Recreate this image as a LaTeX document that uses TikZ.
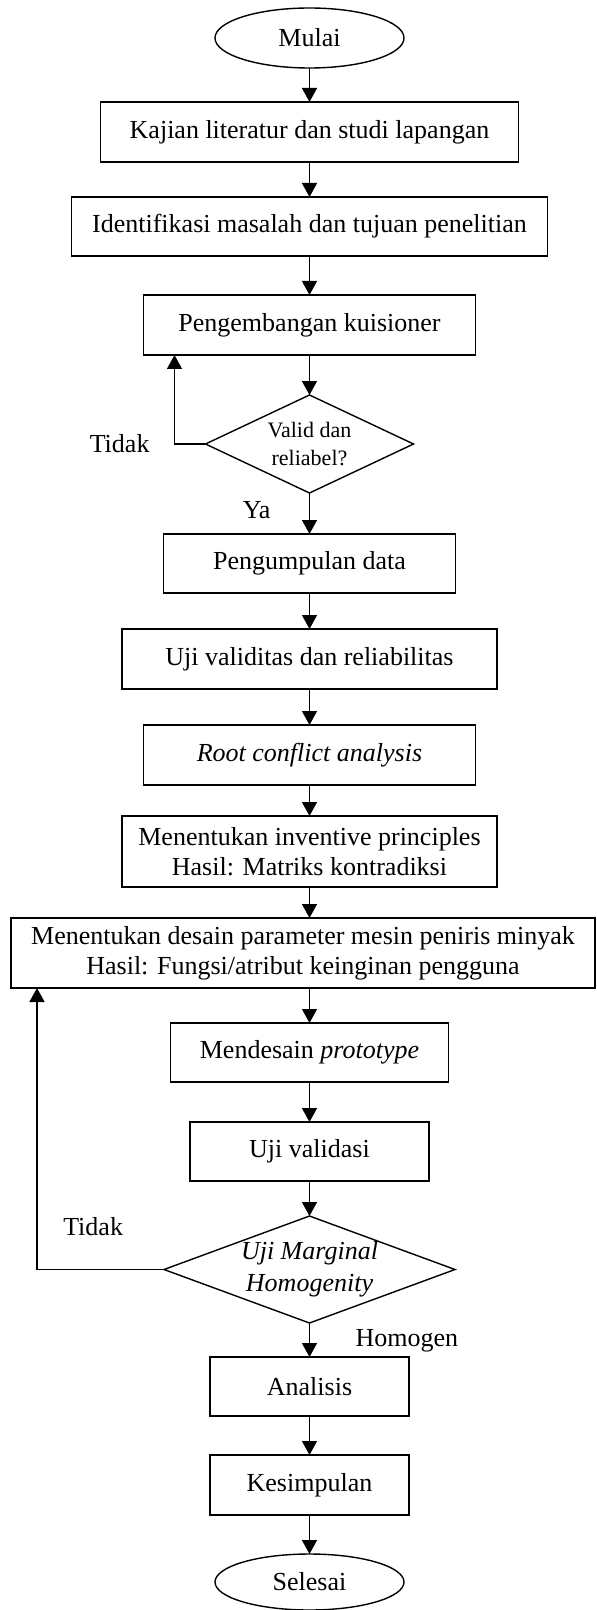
\documentclass[tikz,border=0pt]{standalone}
\usepackage{fontspec}
\setmainfont{Liberation Serif}
\usepackage{tikz}
\usetikzlibrary{positioning,shapes.geometric,arrows.meta}

\begin{document}
\begin{tikzpicture}[font=\fontsize{13}{15}\selectfont, line width=0.7pt,
  main/.style = {draw, rectangle, align=center, inner ysep=2pt, outer sep=0pt, minimum height=30pt},
  term/.style = {draw, ellipse, minimum width=94.5pt, minimum height=30pt, inner sep=0pt, outer sep=0pt},
  dec/.style = {draw, diamond, align=center, inner sep=0pt, outer sep=0pt},
  lbl/.style = {inner sep=0pt, outer sep=0pt},
  >={Triangle[width=7.5pt,length=7pt]}]
\useasboundingbox (-154.75pt,19pt) rectangle (143.25pt,-786pt);
\node[term] (1) {Mulai};
\node[main, minimum width=209pt] (2) [below=17pt of 1] {Kajian literatur dan studi lapangan};
\node[main, minimum width=238pt, minimum height=29.5pt] (3) [below=17.5pt of 2] {Identifikasi masalah dan tujuan penelitian};
\node[main, minimum width=166pt] (4) [below=19.5pt of 3] {Pengembangan kuisioner};
\node[dec, minimum width=104pt, minimum height=49pt, aspect=2.1, font=\fontsize{11}{14}\selectfont] (5) [below=20pt of 4] {Valid dan\\reliabel?};
\node[main, minimum width=146pt, minimum height=29.5pt] (6) [below=20.5pt of 5] {Pengumpulan data};
\node[main, minimum width=187.5pt] (7) [below=18pt of 6] {Uji validitas dan reliabilitas};
\node[main, minimum width=166pt] (8) [below=18pt of 7] {\textit{Root conflict analysis}};
\node[main, minimum width=187.5pt, minimum height=35.5pt] (9) [below=15.5pt of 8] {Menentukan inventive principles\\Hasil: Matriks kontradiksi};
\node[main, minimum width=292pt, minimum height=35pt] (10) [below=15.5pt of 9, xshift=-3.25pt] {Menentukan desain parameter mesin peniris minyak\\Hasil: Fungsi/atribut keinginan pengguna};
\node[main, minimum width=139pt, minimum height=29.5pt] (11) [below=17.5pt of 9 |- 10.south] {Mendesain \textit{prototype}};
\node[main, minimum width=119.5pt, minimum height=29.5pt] (12) [below=20pt of 11] {Uji validasi};
\node[dec, minimum width=145.5pt, minimum height=53.5pt, aspect=2.7, font=\fontsize{13}{16}\selectfont\itshape] (13) [below=17.5pt of 12] {Uji Marginal\\Homogenity};
\node[main, minimum width=99.5pt, minimum height=29.5pt] (14) [below=17pt of 13] {Analisis};
\node[main, minimum width=99.5pt] (15) [below=19.5pt of 14] {Kesimpulan};
\node[term, minimum height=28pt] (16) [below=19.5pt of 15] {Selesai};

\node[lbl] (t1) [left=28pt of 5.west] {Tidak};
\node[lbl] (ya) [below left=4pt and 19.5pt of 5.south] {Ya};
\node[lbl] (t2) [above left=17pt and 20.5pt of 13.west] {Tidak};
\node[lbl] (hm) [below right=3.25pt and 23pt of 13.south] {Homogen};

\draw[->] (1) -- (2);
\draw[->] (2) -- (3);
\draw[->] (3) -- (4);
\draw[->] (4) -- (5);
\draw[->] (5) -- (6);
\draw[->] (6) -- (7);
\draw[->] (7) -- (8);
\draw[->] (8) -- (9);
\draw[->] (9) -- (9 |- 10.north);
\draw[->] (11 |- 10.south) -- (11);
\draw[->] (11) -- (12);
\draw[->] (12) -- (13);
\draw[->] (13) -- (14);
\draw[->] (14) -- (15);
\draw[->] (15) -- (16);

\draw[->] (5.west) -| ([xshift=15.5pt]4.south west);
\draw[->] (13.west) -| ([xshift=13pt]10.south west);
\end{tikzpicture}
\end{document}
